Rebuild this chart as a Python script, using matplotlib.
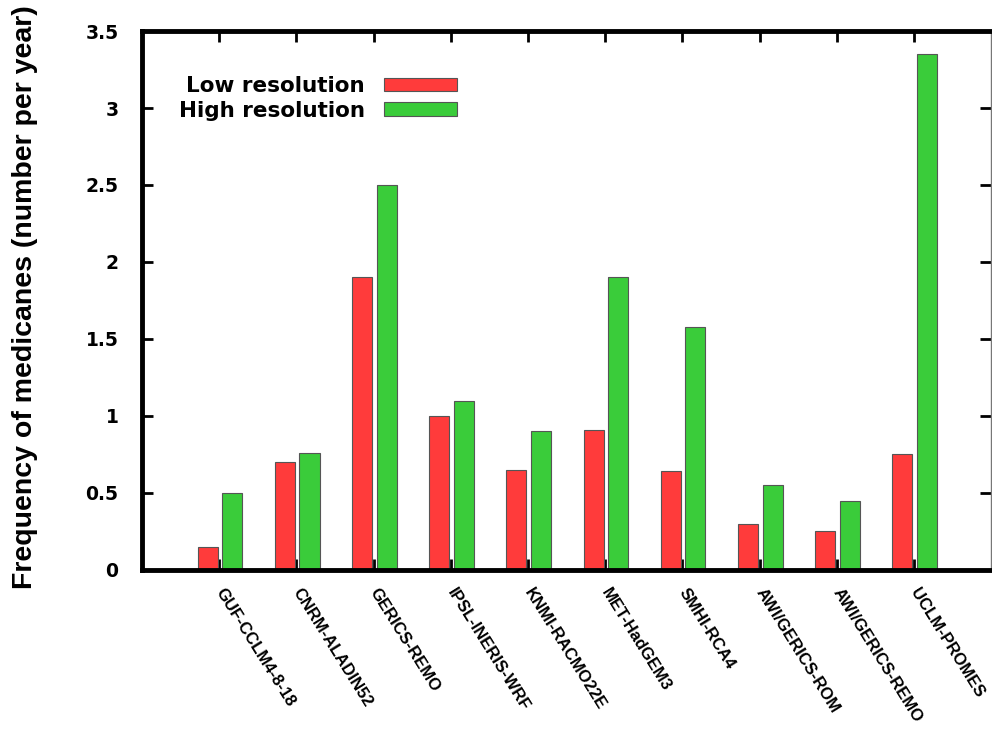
import numpy as np
import matplotlib
matplotlib.use("Agg")
import matplotlib.pyplot as plt
import matplotlib.transforms as mtransforms
from matplotlib import font_manager

# Medicane frequency per regional model, low vs high resolution
models = [
    "GUF-CCLM4-8-18", "CNRM-ALADIN52", "GERICS-REMO", "IPSL-INERIS-WRF",
    "KNMI-RACMO22E", "MET-HadGEM3", "SMHI-RCA4", "AWI/GERICS-ROM",
    "AWI/GERICS-REMO", "UCLM-PROMES",
]
low_res = [0.15, 0.70, 1.90, 1.00, 0.65, 0.91, 0.64, 0.30, 0.25, 0.75]
high_res = [0.50, 0.76, 2.50, 1.10, 0.90, 1.90, 1.58, 0.55, 0.45, 3.35]

red = "#ff3b3b"
green = "#3acc3a"

# narrow sans if we have one, otherwise plain Liberation Sans
installed = {f.name for f in font_manager.fontManager.ttflist}
narrow = "Liberation Sans Narrow" if "Liberation Sans Narrow" in installed else "Liberation Sans"
label_size = 23.4 if narrow == "Liberation Sans Narrow" else 20.5

fig = plt.figure(figsize=(9.92, 7.33), dpi=100)
ax = fig.add_axes([0.1431, 0.2224, 0.856, 0.7353])

x = np.arange(len(models))
width = 0.26
ax.bar(x - 0.15, low_res, width, color=red, edgecolor="#555555", linewidth=0.8,
       label="Low resolution", zorder=2)
ax.bar(x + 0.17, high_res, width, color=green, edgecolor="#555555", linewidth=0.8,
       label="High resolution", zorder=2)

ax.set_xlim(-1, 10)
ax.set_ylim(0, 3.5)
ax.set_yticks(np.arange(0, 3.51, 0.5))
ax.set_yticklabels(["0", "0.5", "1", "1.5", "2", "2.5", "3", "3.5"],
                   fontsize=13.5, fontweight="bold", family="DejaVu Sans")
ax.set_xticks(x)
ax.set_xticklabels(models, rotation=-58, ha="left", va="center",
                   rotation_mode="anchor", fontsize=12, fontweight="bold",
                   family=[narrow, "DejaVu Sans"])
shift = mtransforms.ScaledTranslation(5 / 100, 0, fig.dpi_scale_trans)
for lbl in ax.get_xticklabels():
    lbl.set_transform(lbl.get_transform() + shift)

ax.tick_params(axis="both", direction="in", length=8, width=2,
               top=True, right=True, zorder=3)
ax.tick_params(axis="y", pad=17)
ax.tick_params(axis="x", pad=14)

for side in ["left", "bottom", "top"]:
    ax.spines[side].set_linewidth(3.5)
    ax.spines[side].set_color("black")
ax.spines["right"].set_linewidth(1)
ax.spines["right"].set_color("#777777")

ax.set_ylabel("Frequency of medicanes (number per year)", fontsize=label_size,
              fontweight="bold", family=[narrow, "DejaVu Sans"])
ax.yaxis.set_label_coords(-0.1225, 0.506)

ax.legend(loc="upper right", bbox_to_anchor=(0.394, 0.952), frameon=False,
          markerfirst=False, handlelength=3.4, handleheight=0.56,
          handletextpad=0.9, labelspacing=0.2,
          prop={"family": "DejaVu Sans", "weight": "bold", "size": 15.5})

fig.savefig("out.png", dpi=100)
